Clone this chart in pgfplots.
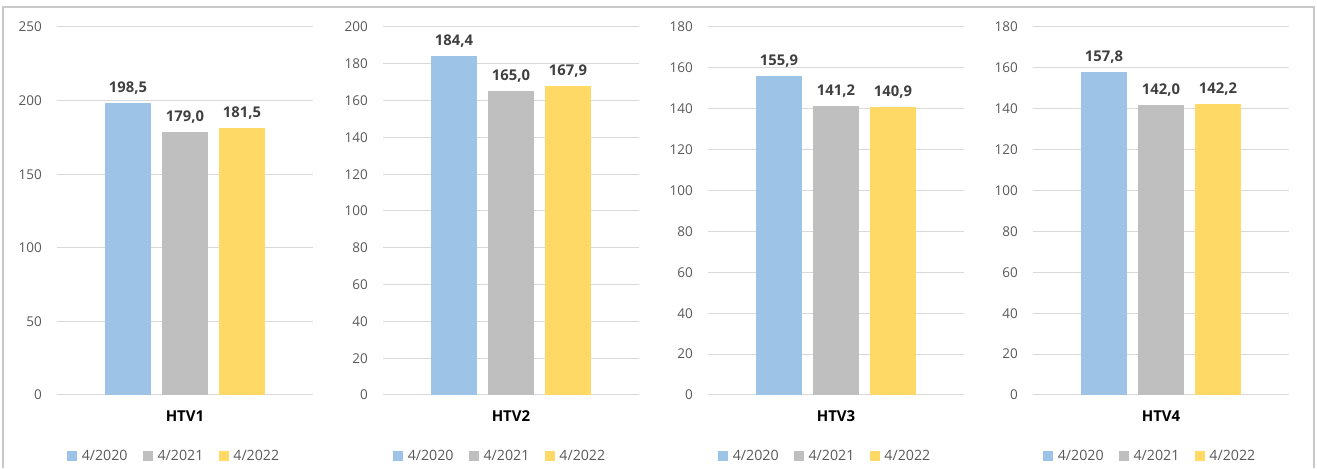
\documentclass[border=0pt]{standalone}
\usepackage{fontspec}
\setmainfont{Open Sans}
\usepackage{pgfplots}
\pgfplotsset{compat=1.18}
\definecolor{cblue}{HTML}{9DC3E6}
\definecolor{cgray}{HTML}{BFBFBF}
\definecolor{cyellow}{HTML}{FFD966}
\definecolor{gridc}{HTML}{D9D9D9}
\definecolor{tickc}{HTML}{595959}
\definecolor{valc}{HTML}{404040}
\definecolor{framec}{HTML}{C8C8C8}
\pgfplotsset{
  panel/.style={
    scale only axis, width=256bp, height=368bp,
    xmin=-128, xmax=128, ymin=0,
    axis line style={draw=none},
    ymajorgrids, grid style={draw=gridc, line width=1bp},
    major tick length=0pt,
    clip=false,
    xtick={0},
    /pgf/number format/assume math mode=true,
    yticklabel style={font=\fontsize{13.5bp}{16bp}\selectfont, text=tickc, inner sep=0pt, xshift=-15bp},
    xticklabel style={font=\fontsize{15bp}{18bp}\selectfont\bfseries, text=black, anchor=center, inner sep=0pt, yshift=-21bp},
    legend style={at={(0.5,0)}, anchor=center, yshift=-61bp, xshift=-11bp, draw=none, fill=none,
      font=\fontsize{14.2bp}{16bp}\selectfont, text=tickc, legend columns=3,
      nodes={inner sep=1.5bp},
      /tikz/every even column/.append style={column sep=14bp},
      /tikz/every odd column/.append style={column sep=3bp}},
    legend image code/.code={\fill[##1] (0bp,-5bp) rectangle (10bp,5bp);},
    nodes near coords={\pgfmathprintnumber[fixed,fixed zerofill,precision=1,use comma,assume math mode=true]{\pgfplotspointmeta}},
    every node near coord/.append style={font=\fontsize{14.8bp}{17bp}\selectfont\bfseries, text=valc, anchor=south, yshift=5bp},
  },
  b1/.style={ybar, bar width=46bp, bar shift=0pt, fill=cblue, draw=none},
  b2/.style={ybar, bar width=46bp, bar shift=0pt, fill=cgray, draw=none},
  b3/.style={ybar, bar width=46bp, bar shift=0pt, fill=cyellow, draw=none},
}
\begin{document}
\begin{tikzpicture}[x=1bp,y=1bp]
\path (0,0) rectangle (1317,468);
\draw[framec, line width=1.5bp] (3,0) -- (3,461) -- (1314,461) -- (1314,0);

\begin{axis}[panel, at={(57bp,73bp)}, anchor=south west, ymax=250, ytick distance=50, xticklabels={HTV1}]
\addplot[b1] coordinates {(-57,198.5)};
\addplot[b2] coordinates {(0,179.0)};
\addplot[b3] coordinates {(57,181.5)};
\legend{4/2020,4/2021,4/2022}
\end{axis}

\begin{axis}[panel, at={(383bp,73bp)}, anchor=south west, ymax=200, ytick distance=20, xticklabels={HTV2}]
\addplot[b1] coordinates {(-57,184.4)};
\addplot[b2] coordinates {(0,165.0)};
\addplot[b3] coordinates {(57,167.9)};
\legend{4/2020,4/2021,4/2022}
\end{axis}

\begin{axis}[panel, at={(708bp,73bp)}, anchor=south west, ymax=180, ytick distance=20, xticklabels={HTV3}]
\addplot[b1] coordinates {(-57,155.9)};
\addplot[b2] coordinates {(0,141.2)};
\addplot[b3] coordinates {(57,140.9)};
\legend{4/2020,4/2021,4/2022}
\end{axis}

\begin{axis}[panel, at={(1033bp,73bp)}, anchor=south west, ymax=180, ytick distance=20, xticklabels={HTV4}]
\addplot[b1] coordinates {(-57,157.8)};
\addplot[b2] coordinates {(0,142.0)};
\addplot[b3] coordinates {(57,142.2)};
\legend{4/2020,4/2021,4/2022}
\end{axis}
\end{tikzpicture}
\end{document}
